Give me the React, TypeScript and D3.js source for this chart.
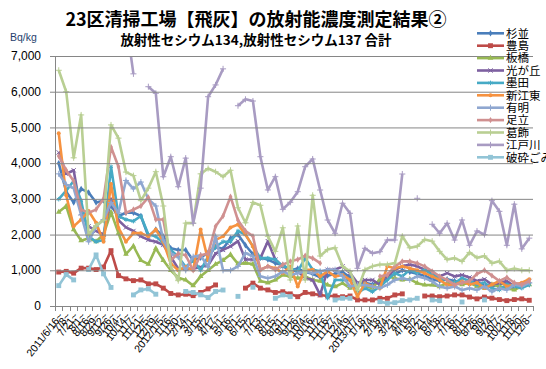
import React, { useEffect, useRef } from "react";
import * as d3 from "d3";

// x axis categories (measurement periods)
const dateLabels: string[] = [
  "2011/6/16~", "7/8~", "7/21~", "8/1~", "8/16~", "8/29~", "9/12~", "9/26~", "10/4~", "10/14~",
  "11/7~", "11/21~", "12/5~", "12/19~",
  "2012/1/5~", "1/16~", "1/30~", "2/14~", "3/1~", "3/15~", "4/2~", "4/17~", "5/1~", "5/16~",
  "6/1~", "6/15~", "7/2~", "7/13~", "8/1~", "8/15~", "8/31~", "9/11~", "9/26~", "10/4~",
  "10/16~", "11/2~", "11/16~", "11/27~", "12/4~", "12/19~",
  "2013/1/7~", "1/18~", "2/4~", "2/18~", "3/4~", "3/21~", "4/4~", "4/19~", "5/2~", "5/21~",
  "6/4~", "6/18~", "7/2~", "7/16~", "8/1~", "8/13~", "8/26~", "9/9~", "9/24~", "10/7~",
  "10/21~", "11/8~", "11/20~", "12/8~",
];

const yTicks = [0, 1000, 2000, 3000, 4000, 5000, 6000, 7000];

type V = number | null;

const suginami: V[] = [
  4000, 3200, 2900, 3280, 3180, 2900, 2950, 2800, 2520, 2610,
  2610, 2520, 1950, 2140, 1950, 1615, 1570, 1570, 1280, 1350,
  1500, 1650, 1600, 1900, 2000, 1700, 1450, 1350, 1300, 1200,
  1150, 1000, 1050, 950, 900, 800, 850, 900, 950, 800,
  600, 650, 600, 700, 800, 900, 1000, 950, 900, 850,
  750, 700, 750, 700, 650, 700, 650, 600, 550, 600,
  650, 500, 550, 600,
];
const toshima: V[] = [
  950, 970, 920, 1060, 1060, 1020, 1090, 1550, 850, 760,
  710, 730, 620, 620, 500, 350, 310, 330, 290, 380,
  480, 590, null, null, null, 500, 640, 500, 450, 380,
  400, 340, 260, 380, 340, 310, 280, 280, 260, 280,
  170, 170, 170, 215, 215, 310, 340, null, null, 280,
  280, 260, 280, 310, 310, 250, 200, 250, 220, 180,
  150, 180, 200, 160,
];
const itabashi: V[] = [
  2630, 2800, 2140, 1830, 1900, 1805, 2000, 2630, 2040, 1450,
  1680, 1280, 1170, 1615, 1280, 1000, 790, 730, 570, 830,
  1000, 1170, 1280, 1440, 1180, 1200, 1175, 700, 650, 730,
  870, 830, 780, 830, 730, 700, 590, 540, 640, 500,
  600, 550, 500, 750, 830, 780, 730, 750, 640, 590,
  590, 545, 640, 640, 600, 650, 550, 500, 600, 550,
  500, 450, 550, 600,
];
const hikarigaoka: V[] = [
  4300, 3700, 3800, 2600, 2230, 2100, 2000, 3000, 2400, 2200,
  2100, 1950, 1850, 1800, 1710, 1380, 1045, 1045, 1045, 1090,
  1140, 1470, 1570, 1670, 1815, 1300, 1300, 1340, 1815, 1300,
  1110, 1015, 970, 780, 730, 310, 1015, 1015, 1110, 920,
  640, 730, 730, 590, 830, 1015, 1110, 1160, 1110, 1015,
  920, 830, 920, 830, 870, 800, 700, 750, 600, 650,
  700, 550, 600, 700,
];
const sumida: V[] = [
  2990, 3230, 3500, 2945, 1950, 1800, 1850, 3900, 2520, 2420,
  2375, 2520, 2000, 1950, 1760, 1570, 1380, 1090, 1280, 1000,
  1380, 1660, 1800, 1800, 2100, 2000, 1670, 1340, 1340, 1300,
  1110, 1060, 970, 1340, 1015, 970, 220, 730, 730, 730,
  357, 500, 400, 545, 730, 920, 830, 1015, 920, 1015,
  870, 780, 730, 640, 780, 700, 600, 650, 500, 450,
  600, 550, 500, 600,
];
const shinkoto: V[] = [
  4840, 3100, 2230, 2420, 2660, 2330, 1800, 3420, 2185, 1800,
  2040, 2040, 1950, 2140, 1800, 1190, 1000, 1090, 1000, 2140,
  1280, 1850, 1950, 2200, 2280, 2000, 1670, 1015, 1110, 1060,
  920, 1110, 545, 1015, 1015, 830, 970, 830, 870, 730,
  263, 640, 550, 500, 1110, 1060, 1110, 1060, 1000, 920,
  830, 730, 590, 590, 690, 600, 650, 500, 600, 700,
  550, 600, 650, 750,
];
const ariake: V[] = [
  3700, 3400, 3300, 2550, 1800, 2230, 2420, 2900, 2610, 3515,
  3280, 3470, 2990, 2800, 1850, 1470, 1380, 1000, 1380, 1420,
  1090, 1950, 1000, 1000, 1110, 1485, 1390, 830, 780, 830,
  970, 870, 920, 970, 920, 970, 1015, 1015, 830, 545,
  590, 590, 545, 500, 590, 730, 780, 730, 830, 780,
  690, 545, 500, 545, 450, 500, 450, 550, 400, 500,
  450, 600, 550, 650,
];
const adachi: V[] = [
  4200, 3800, 3500, 2700, 2610, 2700, 3000, 4450, 3900, 2610,
  2700, 2800, 3040, 2420, 2420, 1280, 1470, 1420, 1000, 1420,
  1470, 2230, 2520, 3060, 2400, 2100, 1955, 1015, 1110, 1015,
  1160, 1250, 1300, 1410, 1340, 1200, null, null, null, null,
  null, null, null, 830, 870, 1110, 1250, 1250, 1200, 1110,
  970, 830, 730, 590, 650, 700, 900, 1000, 850, 700,
  800, 650, 600, 700,
];
const katsushika: V[] = [
  6600, 6000, 4150, 5350, 2000, 2250, 2400, 5070, 4700, 3750,
  3650, 2950, 3300, 3760, 2800, 1100, 710, 2320, 2320, 3700,
  3850, 3760, 3620, 3800, 2750, 2330, 2900, 2820, 1950, 1530,
  2190, 730, 2240, 730, 3100, 1400, 1580, 1630, 1110, 970,
  450, 1015, 1110, 1160, 1160, 1200, 1955, 1630, 1670, 1860,
  1815, 1530, 1300, 1340, 1250, 1500, 1350, 1400, 1200, 1250,
  1000, 1050, 1000, 1000,
];
const edogawa: V[] = [
  null, null, null, null, null, null, null, null, null, 8000,
  6500, null, 6140, 5956, 3620, 4180, 3340, 4140, 2316, 3300,
  5860, 6190, 6640, null, 5608, 5787, 5740, 4180, 3250, 3620,
  2708, 2904, 3200, 3900, 4116, 3248, 2408, 2036, 2876, 2596,
  1056, 1616, 1476, 1520, 1848, 1848, 3696, null, 3016, null,
  2288, 2036, 2316, 1848, 2408, 1700, 2100, 2000, 2950, 2650,
  1700, 2850, 1600, 1900,
];
const hasaigomi: V[] = [
  570, 880, 730, null, 1020, 1430, 900, 520, null, null,
  310, 450, 480, 330, null, null, null, 408, 380, 313,
  237, 408, 447, null, 270, null, 526, null, null, 216,
  310, 263, null, null, null, null, null, 169, 216, 216,
  null, null, null, 122, 75, 94, 150, 169, 216, null,
  169, 150, null, null, 112, null, null, 170, null, null,
  null, null, null, null,
];

const seriesNames = ["杉並", "豊島", "板橋", "光が丘", "墨田", "新江東", "有明", "足立", "葛飾", "江戸川", "破砕ごみ"];
const seriesValues = [suginami, toshima, itabashi, hikarigaoka, sumida, shinkoto, ariake, adachi, katsushika, edogawa, hasaigomi];
const seriesColors = ["#4A7EBB", "#BE4B48", "#98B954", "#7D60A0", "#46AAC5", "#F69240", "#8FA7D0", "#D09090", "#B9CF93", "#A89BC2", "#92C4D6"];
const seriesMarkers = ["diamond", "square", "triangle", "times", "asterisk", "circle", "plus", "diamond", "plus", "plus", "square"];

const W = 546;
const H = 369;
const left = 55, right = 533, top = 56, bottom = 306;

function symbolFor(kind: string) {
  switch (kind) {
    case "square": return { type: d3.symbolSquare, size: 24, stroke: false };
    case "triangle": return { type: d3.symbolTriangle, size: 14, stroke: false };
    case "circle": return { type: d3.symbolCircle, size: 12, stroke: false };
    case "times": return { type: d3.symbolTimes, size: 14, stroke: true };
    case "asterisk": return { type: d3.symbolAsterisk, size: 14, stroke: true };
    case "plus": return { type: d3.symbolPlus, size: 14, stroke: true };
    default: return { type: d3.symbolDiamond, size: 12, stroke: false };
  }
}

export default function App() {
  const ref = useRef<SVGSVGElement>(null);

  useEffect(() => {
    const svg = d3.select(ref.current);
    svg.selectAll("*").remove();

    const x = d3.scaleBand<number>()
      .domain(d3.range(dateLabels.length))
      .range([left, right]);
    const cx = (i: number) => (x(i) as number) + x.bandwidth() / 2;
    const y = d3.scaleLinear().domain([0, 7000]).range([bottom, top]);

    svg.append("rect").attr("width", W).attr("height", H).attr("fill", "#fff");

    // titles
    svg.append("text")
      .attr("x", 256).attr("y", 26)
      .attr("text-anchor", "middle")
      .attr("font-family", "'Noto Sans CJK JP', sans-serif")
      .attr("font-weight", "bold").attr("font-size", 18)
      .text("23区清掃工場【飛灰】の放射能濃度測定結果②");
    svg.append("text")
      .attr("x", 256).attr("y", 45)
      .attr("text-anchor", "middle")
      .attr("font-family", "'Noto Sans CJK JP', sans-serif")
      .attr("font-weight", "bold").attr("font-size", 13.5)
      .text("放射性セシウム134,放射性セシウム137 合計");
    svg.append("text")
      .attr("x", 10).attr("y", 41)
      .attr("font-family", "'Liberation Sans', Arial, sans-serif")
      .attr("font-size", 10.5).attr("fill", "#1F3F6E")
      .text("Bq/kg");

    // gridlines + y labels
    const fmt = d3.format(",");
    const g = svg.append("g");
    yTicks.forEach((t) => {
      g.append("line")
        .attr("x1", left - 5).attr("x2", right)
        .attr("y1", y(t) + 0.5).attr("y2", y(t) + 0.5)
        .attr("stroke", "#868686").attr("stroke-width", 1);
      g.append("text")
        .attr("x", 41).attr("y", y(t)).attr("dy", "0.35em")
        .attr("text-anchor", "end")
        .attr("font-family", "'Liberation Sans', Arial, sans-serif")
        .attr("font-size", 12).attr("fill", "#000")
        .text(fmt(t));
    });
    g.append("line")
      .attr("x1", left + 0.5).attr("x2", left + 0.5)
      .attr("y1", top).attr("y2", bottom)
      .attr("stroke", "#868686");

    // x ticks and labels
    d3.range(dateLabels.length + 1).forEach((k) => {
      const xx = Math.round(left + k * x.step()) + 0.5;
      g.append("line")
        .attr("x1", xx).attr("x2", xx)
        .attr("y1", bottom).attr("y2", bottom + 5)
        .attr("stroke", "#868686");
    });
    dateLabels.forEach((lab, i) => {
      const px = cx(i) + 2;
      const py = 314;
      g.append("text")
        .attr("transform", `translate(${px},${py}) rotate(-52)`)
        .attr("text-anchor", "end").attr("dy", "0.35em")
        .attr("font-family", "'Liberation Sans', Arial, sans-serif")
        .attr("font-size", 10.5).attr("fill", "#000")
        .text(lab);
    });

    // clip for plot area
    svg.append("defs").append("clipPath").attr("id", "plotClip")
      .append("rect").attr("x", left).attr("y", top).attr("width", right - left).attr("height", bottom - top);

    const plotG = svg.append("g").attr("clip-path", "url(#plotClip)");
    const line = d3.line<V>()
      .defined((d) => d !== null)
      .x((_, i) => cx(i))
      .y((d) => y(d as number));

    seriesValues.forEach((vals, s) => {
      const color = seriesColors[s];
      plotG.append("path")
        .datum(vals)
        .attr("d", line)
        .attr("fill", "none")
        .attr("stroke", color)
        .attr("stroke-width", 2.6)
        .attr("stroke-linejoin", "round");
      const sym = symbolFor(seriesMarkers[s]);
      const path = d3.symbol().type(sym.type).size(sym.size)();
      vals.forEach((v, i) => {
        if (v === null) return;
        plotG.append("path")
          .attr("d", path)
          .attr("transform", `translate(${cx(i)},${y(v)})`)
          .attr("fill", sym.stroke ? "none" : color)
          .attr("stroke", sym.stroke ? color : "none")
          .attr("stroke-width", 1);
      });
    });

    // x axis line on top
    g.append("line")
      .attr("x1", left).attr("x2", right)
      .attr("y1", bottom + 0.5).attr("y2", bottom + 0.5)
      .attr("stroke", "#868686");
    svg.node()!.appendChild(g.node()!);

    // legend
    const lg = svg.append("g");
    seriesNames.forEach((name, s) => {
      const ly = 33.3 + s * 12.4;
      const color = seriesColors[s];
      lg.append("line")
        .attr("x1", 477).attr("x2", 504)
        .attr("y1", ly).attr("y2", ly)
        .attr("stroke", color).attr("stroke-width", 2.6);
      const sym = symbolFor(seriesMarkers[s]);
      lg.append("path")
        .attr("d", d3.symbol().type(sym.type).size(sym.size)())
        .attr("transform", `translate(490.5,${ly})`)
        .attr("fill", sym.stroke ? "none" : color)
        .attr("stroke", sym.stroke ? color : "none");
      lg.append("text")
        .attr("x", 506).attr("y", ly).attr("dy", "0.38em")
        .attr("font-family", "'Noto Sans CJK JP', sans-serif")
        .attr("font-size", 11.5).attr("fill", "#000")
        .text(name);
    });
  }, []);

  return (
    <svg
      ref={ref}
      width={W}
      height={H}
      style={{ position: "absolute", left: 0, top: 0, display: "block", background: "#fff" }}
    />
  );
}
